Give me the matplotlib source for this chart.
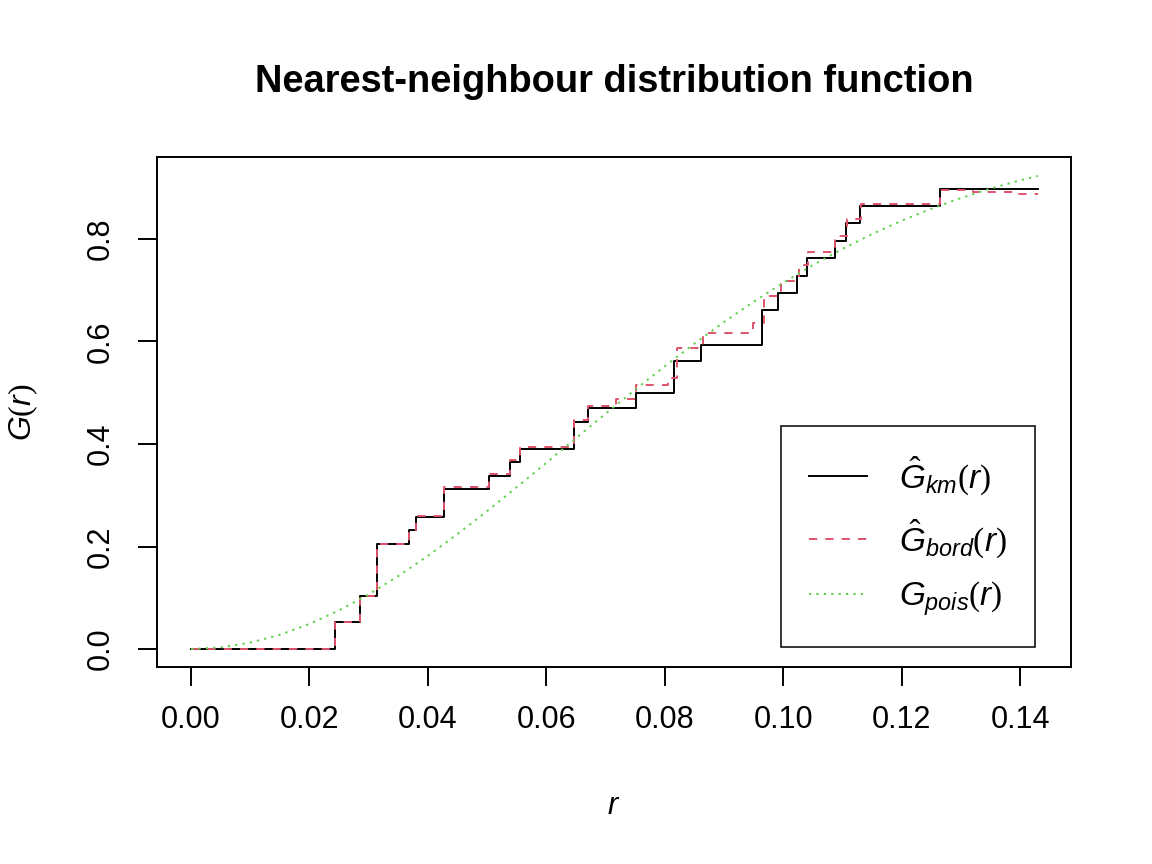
import numpy as np
import matplotlib
matplotlib.use("Agg")
import matplotlib.pyplot as plt

# Kaplan-Meier estimate: jump positions and levels after each jump
km_r = [0.0, 0.0243, 0.0285, 0.0314, 0.0368, 0.0380, 0.0427, 0.0504, 0.0539,
        0.0555, 0.0646, 0.0670, 0.0752, 0.0815, 0.0862, 0.0964, 0.0992,
        0.1023, 0.1040, 0.1088, 0.1106, 0.1130, 0.1265, 0.1430]
km_g = [0.0, 0.053, 0.104, 0.205, 0.232, 0.258, 0.313, 0.338, 0.365,
        0.390, 0.443, 0.471, 0.500, 0.562, 0.594, 0.661, 0.695,
        0.728, 0.763, 0.797, 0.832, 0.865, 0.898, 0.898]

# border-corrected estimate
bord_r = [0.0, 0.0243, 0.0285, 0.0314, 0.0368, 0.0380, 0.0427, 0.0504, 0.0539,
          0.0555, 0.0646, 0.0670, 0.0718, 0.0752, 0.0806, 0.0820, 0.0865,
          0.0949, 0.0968, 0.0996, 0.1027, 0.1042, 0.1088, 0.1108, 0.1132,
          0.1265, 0.1320, 0.1395, 0.1430]
bord_g = [0.0, 0.053, 0.104, 0.205, 0.232, 0.260, 0.316, 0.341, 0.368,
          0.395, 0.447, 0.474, 0.487, 0.515, 0.529, 0.588, 0.617,
          0.637, 0.689, 0.719, 0.749, 0.775, 0.806, 0.839, 0.868,
          0.896, 0.892, 0.888, 0.888]

pois_r = [0.0, 0.005, 0.01, 0.015, 0.02, 0.025, 0.03, 0.035, 0.04, 0.045,
          0.05, 0.055, 0.06, 0.065, 0.07, 0.075, 0.08, 0.085, 0.09, 0.095,
          0.10, 0.105, 0.11, 0.115, 0.12, 0.125, 0.13, 0.135, 0.14, 0.143]
pois_g = [0.0, 0.0031, 0.0125, 0.0278, 0.0489, 0.0754, 0.1067, 0.1424, 0.1818,
          0.2242, 0.2691, 0.3157, 0.3633, 0.4113, 0.4591, 0.5061, 0.5518,
          0.5959, 0.6379, 0.6775, 0.7146, 0.7491, 0.7807, 0.8096, 0.8357,
          0.8590, 0.8799, 0.8983, 0.9144, 0.9230]

xticks = [0.00, 0.02, 0.04, 0.06, 0.08, 0.10, 0.12, 0.14]
yticks = [0.0, 0.2, 0.4, 0.6, 0.8]

plt.rcParams['font.family'] = ['Liberation Sans', 'DejaVu Sans']
plt.rcParams['mathtext.fontset'] = 'custom'
plt.rcParams['mathtext.rm'] = 'Liberation Serif'
plt.rcParams['mathtext.it'] = 'Liberation Sans:italic'

fig = plt.figure(figsize=(11.52, 8.64), dpi=100)
ax = fig.add_axes([0.1363, 0.228, 0.7934, 0.5903])

lw = 1.4
ax.step(km_r, km_g, where='post', color='black', lw=lw,
        label=r'$\hat{G}_{km}(r)$')
ax.step(bord_r, bord_g, where='post', color='#DF536B', lw=lw,
        dashes=(4.2, 4.2), label=r'$\hat{G}_{bord}(r)$')
ax.plot(pois_r, pois_g, color='#61D04F', lw=lw, dashes=(1.2, 2.6),
        label=r'$G_{pois}(r)$')

ax.set_xlim(-0.00574, 0.1486)
ax.set_ylim(-0.0351, 0.960)
ax.set_xticks(xticks)
ax.set_xticklabels(["%.2f" % v for v in xticks])
ax.set_yticks(yticks)
ax.set_yticklabels(["%.1f" % v for v in yticks], rotation=90, va='center')
ax.tick_params(direction='out', length=13.5, width=1.4, labelsize=22, pad=14)
ax.tick_params(axis='y', pad=16)
for s in ax.spines.values():
    s.set_linewidth(1.4)

ax.set_title("Nearest-neighbour distribution function", fontsize=27.4,
             fontweight='bold', pad=47)
ax.set_xlabel(r'$r$', fontsize=22, labelpad=40)
ax.set_ylabel(r'$G(r)$', fontsize=23, labelpad=33)

leg = ax.legend(loc='lower right', bbox_to_anchor=(0.9606, 0.0398),
                fontsize=24, handlelength=1.75, handletextpad=0.95,
                labelspacing=0.6, borderpad=0.85, borderaxespad=0,
                fancybox=False, framealpha=1, edgecolor='black')
leg.get_frame().set_linewidth(1.1)

fig.savefig("out.png", dpi=100)
